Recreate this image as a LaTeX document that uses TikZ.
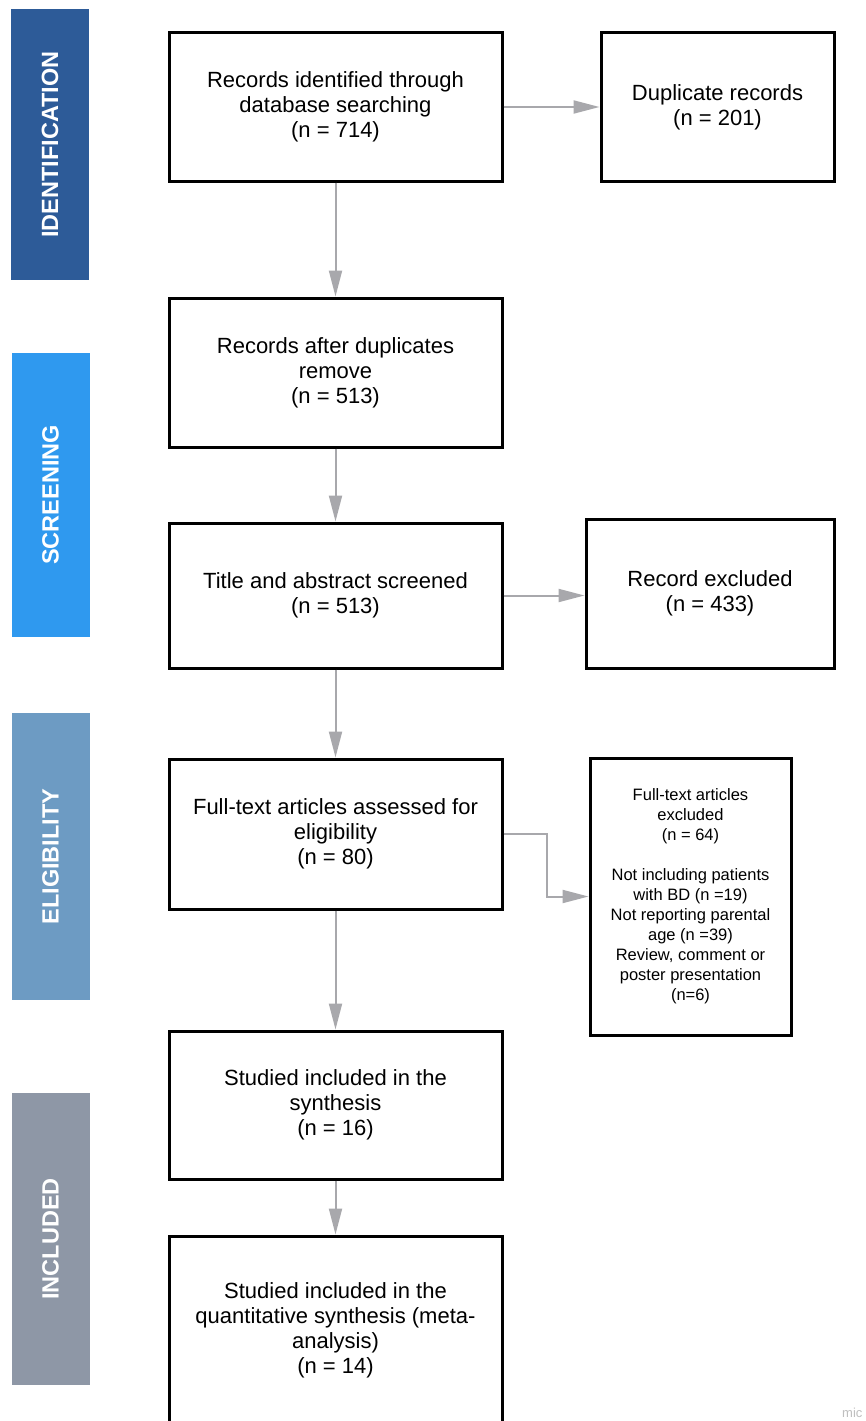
\documentclass[tikz,border=0pt]{standalone}
\usepackage{fontspec}
\setmainfont{Liberation Sans}
\usetikzlibrary{arrows.meta}
\definecolor{idcol}{HTML}{2D5B98}
\definecolor{scrcol}{HTML}{2F99EF}
\definecolor{elicol}{HTML}{6D9BC3}
\definecolor{inccol}{HTML}{8E97A6}
\definecolor{arrcol}{HTML}{A8A8AC}
\tikzset{
  bar/.style={rotate=90, minimum height=78pt, inner sep=0pt, text=white,
    font=\fontsize{23.5}{26}\selectfont\bfseries},
  mainbox/.style={draw=black, line width=3pt, minimum width=333pt, align=center,
    inner sep=0pt, font=\fontsize{22}{25}\selectfont},
  smallbox/.style={draw=black, line width=3pt, align=center, inner sep=0pt,
    font=\fontsize{16.5}{20}\selectfont},
  flow/.style={draw=arrcol, line width=2pt, -{Triangle[length=26pt,width=13pt]}}
}
\begin{document}
\begin{tikzpicture}[x=1pt,y=-1pt]
\clip (0,0) rectangle (866,1421);
\fill[white] (0,0) rectangle (866,1421);
% phase bars
\node[bar, fill=idcol, minimum width=271pt] (pid) at (50,144.5) {IDENTIFICATION};
\node[bar, fill=scrcol, minimum width=284pt] (pscr) at (50.5,495) {SCREENING};
\node[bar, fill=elicol, minimum width=287pt] (peli) at (50.5,856.5) {ELIGIBILITY};
\node[bar, fill=inccol, minimum width=292pt] (pinc) at (50.5,1239) {INCLUDED};
% boxes
\node[mainbox, minimum height=148pt] (b1) at (335.5,107) {Records identified through\\database searching\\(n = 714)};
\node[mainbox, minimum width=233pt, minimum height=148pt] (dup) at (717.5,107) {Duplicate records\\(n = 201)};
\node[mainbox, minimum height=149pt] (b2) at (335.5,372.5) {Records after duplicates\\remove\\(n = 513)};
\node[mainbox, minimum height=145pt] (b3) at (335.5,595.5) {Title and abstract screened\\(n = 513)};
\node[mainbox, minimum width=248pt, minimum height=149pt] (ex1) at (710,593.5) {Record excluded\\(n = 433)};
\node[mainbox, minimum height=150pt] (b4) at (335.5,834) {Full-text articles assessed for\\eligibility\\(n = 80)};
\node[smallbox, minimum width=201pt, minimum height=277pt] (ex2) at (690.5,896.5) {Full-text articles\\excluded\\(n = 64)\\[20pt]Not including patients\\with BD (n =19)\\Not reporting parental\\age (n =39)\\Review, comment or\\poster presentation\\(n=6)};
\node[mainbox, minimum height=148pt] (b5) at (335.5,1105) {Studied included in the\\synthesis\\(n = 16)};
\node[mainbox, minimum height=188pt] (b6) at (335.5,1330) {Studied included in the\\quantitative synthesis (meta-\\analysis)\\(n = 14)};
% connectors
\draw[flow] (b1.east) -- (b1.east -| dup.west);
\draw[flow] (b1.south) -- (b2.north);
\draw[flow] (b2.south) -- (b3.north);
\draw[flow] (b3.east) -- (b3.east -| ex1.west);
\draw[flow] (b3.south) -- (b4.north);
\draw[flow] (b4.east) -- ++(43,0) |- (ex2.west);
\draw[flow] (b4.south) -- (b5.north);
\draw[flow] (b5.south) -- (b6.north);
% watermark
\node[anchor=west, text=black!25, font=\fontsize{13}{14}\selectfont, inner sep=0pt] (wm) at (842,1413) {mic};
\end{tikzpicture}
\end{document}
